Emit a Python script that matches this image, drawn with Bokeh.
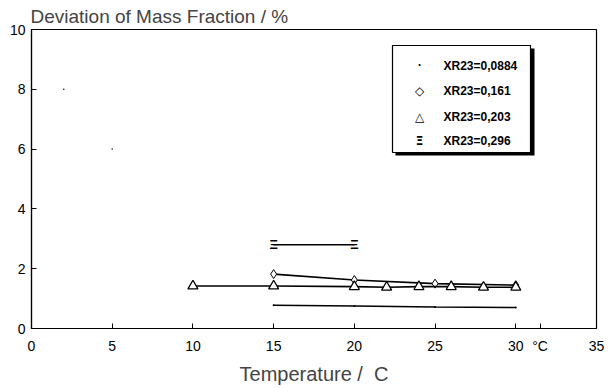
from bokeh.plotting import figure
from bokeh.models import Range1d, FixedTicker, BoxAnnotation, Label, ColumnDataSource
from bokeh.core.properties import value
from bokeh.embed import file_html
from bokeh.resources import INLINE

FONT = "Liberation Sans"

# --- data ---
x_0884 = [15, 20, 25, 30]
y_0884 = [0.78, 0.75, 0.72, 0.70]
stray_x = [2, 5]
stray_y = [8.0, 6.0]

x_161 = [15, 20, 25, 30]
y_161 = [1.82, 1.62, 1.50, 1.45]

x_203 = [10, 15, 20, 22, 24, 26, 28, 30]
y_203 = [1.42, 1.42, 1.40, 1.38, 1.40, 1.40, 1.38, 1.38]

x_296 = [15, 20]
y_296 = [2.80, 2.80]

labels = ["XR23=0,0884", "XR23=0,161", "XR23=0,203", "XR23=0,296"]
symbols = ["·", "◇", "△", "Ξ"]
x_ticks = [0, 5, 10, 15, 20, 25, 30, 35]
unit_tick = 31.5
y_ticks = [0, 2, 4, 6, 8, 10]

p = figure(width=612, height=388, output_backend="svg", toolbar_location=None,
           x_range=Range1d(0, 35), y_range=Range1d(0, 10),
           min_border_left=31, min_border_right=16, min_border_top=29, min_border_bottom=60)

p.title.text = "Deviation of Mass Fraction / %"
p.title.text_font = FONT
p.title.text_font_size = "19px"
p.title.text_font_style = "normal"
p.title.align = "left"
p.title.standoff = 5
p.title.offset = -1

p.grid.visible = False
p.outline_line_color = "black"
p.outline_line_width = 1.2
p.background_fill_color = "white"
p.border_fill_color = "white"

for ax in (p.xaxis[0], p.yaxis[0]):
    ax.axis_line_color = "black"
    ax.axis_line_width = 1.2
    ax.major_tick_in = 5
    ax.major_tick_out = 0
    ax.minor_tick_in = 0
    ax.minor_tick_out = 0
    ax.major_label_text_font = FONT
    ax.major_label_text_font_size = "14px"
    ax.major_label_text_color = "black"

# the unit "°C" sits among the x tick labels between 30 and 35
p.xaxis.ticker = FixedTicker(ticks=x_ticks + [unit_tick])
p.xaxis.major_label_overrides = {unit_tick: "°C"}
p.yaxis.ticker = FixedTicker(ticks=y_ticks)
p.xaxis.major_label_standoff = 9
p.yaxis.major_label_standoff = 6
p.xaxis.axis_label = "Temperature /\u00a0\u00a0C"
p.xaxis.axis_label_text_font = FONT
p.xaxis.axis_label_text_font_size = "20px"
p.xaxis.axis_label_text_font_style = "normal"
p.xaxis.axis_label_standoff = 6

# series
lw = 1.6
p.line(x_0884, y_0884, line_color="black", line_width=lw)
p.scatter(x_0884, y_0884, marker="dot", size=8, color="black")
p.scatter(stray_x, stray_y, marker="dot", size=6, color="black")

p.line(x_161, y_161, line_color="black", line_width=lw)
p.scatter(x_161, y_161, marker="diamond", size=9, line_color="black", fill_color="white", line_width=1)

p.line(x_203, y_203, line_color="black", line_width=lw)
p.scatter(x_203, y_203, marker="triangle", size=10, line_color="black", fill_color="white", line_width=1.3)

p.line(x_296, y_296, line_color="black", line_width=lw)
src296 = ColumnDataSource(dict(x=x_296, y=y_296, t=[symbols[3]] * len(x_296)))
p.text(x="x", y="y", text="t", source=src296, text_font=value(FONT), text_font_size="13px",
       text_align="center", text_baseline="middle", text_color="black", text_font_style="bold")

# legend box with drop shadow (frame-relative screen units)
p.add_layout(BoxAnnotation(left=364, right=503, top=280, bottom=173,
                           left_units="screen", right_units="screen",
                           top_units="screen", bottom_units="screen",
                           fill_color="black", fill_alpha=1.0, line_alpha=0))
p.add_layout(BoxAnnotation(left=361, right=499, top=283, bottom=176,
                           left_units="screen", right_units="screen",
                           top_units="screen", bottom_units="screen",
                           fill_color="white", fill_alpha=1.0,
                           line_color="black", line_width=1.2, line_alpha=1.0))

row_y = [263, 238, 212, 188]
for sym, lab, yy in zip(symbols, labels, row_y):
    p.add_layout(Label(x=388, y=yy, x_units="screen", y_units="screen", text=sym,
                       text_font="DejaVu Sans", text_font_size="12px" if sym != "·" else "16px",
                       text_font_style="bold" if sym == "Ξ" else "normal",
                       text_align="center", text_baseline="middle", text_color="black"))
    p.add_layout(Label(x=412, y=yy, x_units="screen", y_units="screen", text=lab,
                       text_font=FONT, text_font_size="12px", text_font_style="bold",
                       text_align="left", text_baseline="middle", text_color="black"))

open("out.html", "w").write(file_html(p, INLINE))
